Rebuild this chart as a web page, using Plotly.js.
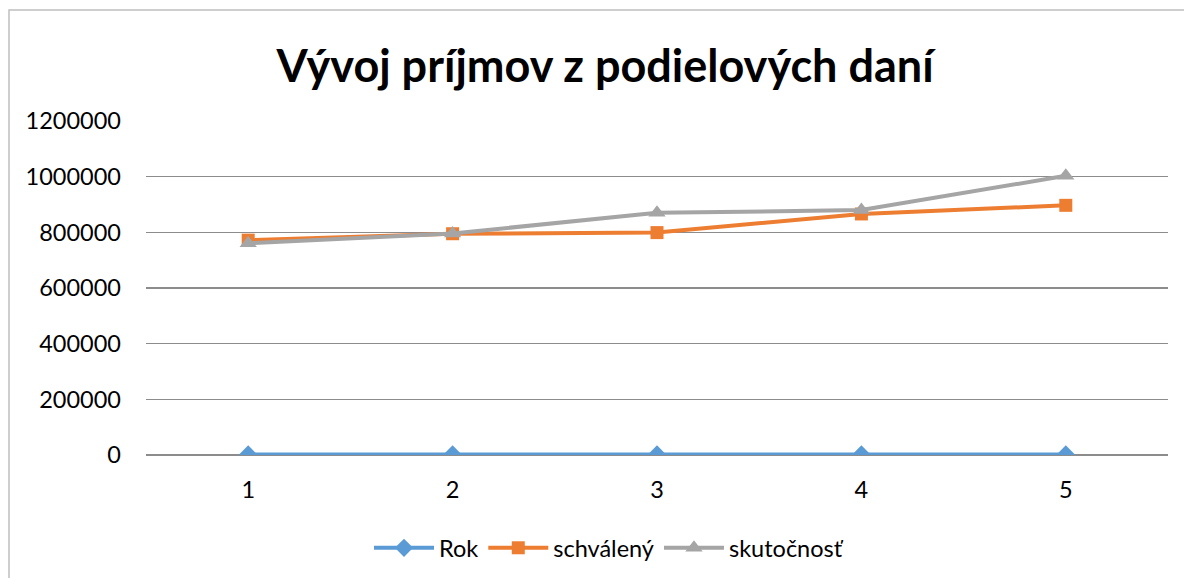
<!DOCTYPE html>
<html>
<head>
<meta charset="utf-8">
<script src="https://cdn.plot.ly/plotly-3.0.1.min.js"></script>
<style>
html,body{margin:0;padding:0;background:#fff;}
#chart{width:1184px;height:578px;}
</style>
</head>
<body>
<div id="chart"></div>
<script>
const categories = [1, 2, 3, 4, 5];
const rok = [2010, 2011, 2012, 2013, 2014];
const schvaleny = [772000, 795000, 799000, 866000, 897000];
const skutocnost = [761000, 796000, 870000, 880000, 1003000];
const yTicks = [0, 200000, 400000, 600000, 800000, 1000000, 1200000];

const font = "Lato, Calibri, Carlito, 'Open Sans', sans-serif";

const traces = [
  {x: categories, y: rok, name: 'Rok', type: 'scatter', mode: 'lines+markers',
   line: {color: '#5B9BD5', width: 4}, marker: {symbol: 'diamond', size: 14, color: '#5B9BD5'}},
  {x: categories, y: schvaleny, name: 'schválený', type: 'scatter', mode: 'lines+markers',
   line: {color: '#ED7D31', width: 4}, marker: {symbol: 'square', size: 13, color: '#ED7D31'}},
  {x: categories, y: skutocnost, name: 'skutočnosť', type: 'scatter', mode: 'lines+markers',
   line: {color: '#A5A5A5', width: 4}, marker: {symbol: 'triangle-up', size: 15, color: '#A5A5A5'}}
];

const layout = {
  width: 1184, height: 578,
  margin: {l: 146, r: 16, t: 121, b: 123},
  paper_bgcolor: '#fff', plot_bgcolor: '#fff',
  font: {family: font, size: 23.5, color: '#000'},
  title: {text: '<b>Vývoj príjmov z podielových daní</b>', font: {family: font, size: 45, color: '#000'},
          x: 0.511, xanchor: 'center', y: 1 - 66/578, yanchor: 'middle'},
  xaxis: {range: [0.5, 5.5], tickvals: categories, ticktext: categories.map(String),
          showgrid: false, zeroline: false, showline: false, ticks: '',
          ticklabelstandoff: 18, fixedrange: true, automargin: false},
  yaxis: {range: [0, 1200000], tickvals: yTicks, ticktext: yTicks.map(String),
          showgrid: true, gridcolor: '#8c8c8c', gridwidth: 1.2, zeroline: true, zerolinecolor: '#8c8c8c',
          zerolinewidth: 1.2, showline: false, ticks: '', ticklabelstandoff: 24, fixedrange: true, automargin: false},
  showlegend: true,
  legend: {orientation: 'h', xref: 'container', yref: 'container', x: 609/1184, xanchor: 'center',
           y: 1 - 548/578, yanchor: 'middle',
           itemwidth: 60, font: {family: font, size: 23.5, color: '#000'}, bgcolor: 'rgba(0,0,0,0)'},
  shapes: [{type: 'rect', xref: 'paper', yref: 'paper',
            x0: (9 - 146)/1022, x1: (1200 - 146)/1022, y0: (455 - 600)/334, y1: (455 - 10)/334,
            line: {color: '#bfbfbf', width: 1.5}, fillcolor: 'rgba(0,0,0,0)', layer: 'below'}]
};

Plotly.newPlot('chart', traces, layout, {displayModeBar: false, staticPlot: true});
</script>
</body>
</html>
